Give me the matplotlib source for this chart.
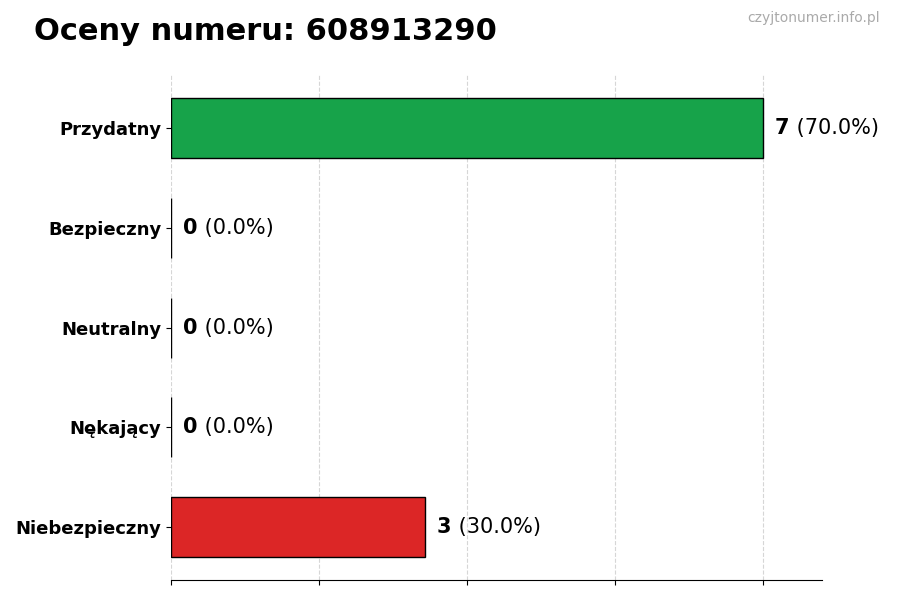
import matplotlib
matplotlib.use("Agg")
import matplotlib.pyplot as plt

categories = ["Przydatny", "Bezpieczny", "Neutralny", "Nękający", "Niebezpieczny"]
counts = [7, 0, 0, 0, 3]
colors = ["#17a34a", "#9ca3af", "#6b7280", "#f59e0b", "#dc2626"]
title = "Oceny numeru: 608913290"
watermark = "czyjtonumer.info.pl"

plt.rcParams['font.family'] = ['DejaVu Sans']
fig = plt.figure(figsize=(9, 6), dpi=100)
ax = fig.add_axes([0.19, 0.033, 0.723, 0.842])

total = sum(counts)
ypos = list(range(len(categories)))[::-1]
ax.barh(ypos, counts, height=0.6, color=colors, edgecolor="black", linewidth=1, zorder=3)
ax.set_yticks(ypos)
ax.set_yticklabels(categories, fontsize=13, fontweight="bold")
maxv = max(counts)
ax.set_xlim(0, maxv * 1.1)
ax.set_xticks([maxv * i / 4 for i in range(5)])
ax.set_xticklabels([])
ax.grid(axis="x", linestyle="--", color="#cccccc", alpha=0.8, zorder=0)
for s in ["top", "right", "left"]:
    ax.spines[s].set_visible(False)

for y, c in zip(ypos, counts):
    t = ax.annotate(f"{c}", xy=(c, y), xytext=(9, 0), textcoords="offset points",
                    va="center", ha="left", fontsize=15, fontweight="bold")
    ax.annotate(f" ({c / total * 100:.1f}%)", xy=(1, 0.5), xycoords=t,
                va="center", ha="left", fontsize=15)

fig.text(0.038, 0.948, title, fontsize=22, fontweight="bold", va="center", ha="left")
fig.text(0.978, 0.97, watermark, fontsize=10, color="#aaaaaa", va="center", ha="right")

fig.savefig("out.png", dpi=100)
